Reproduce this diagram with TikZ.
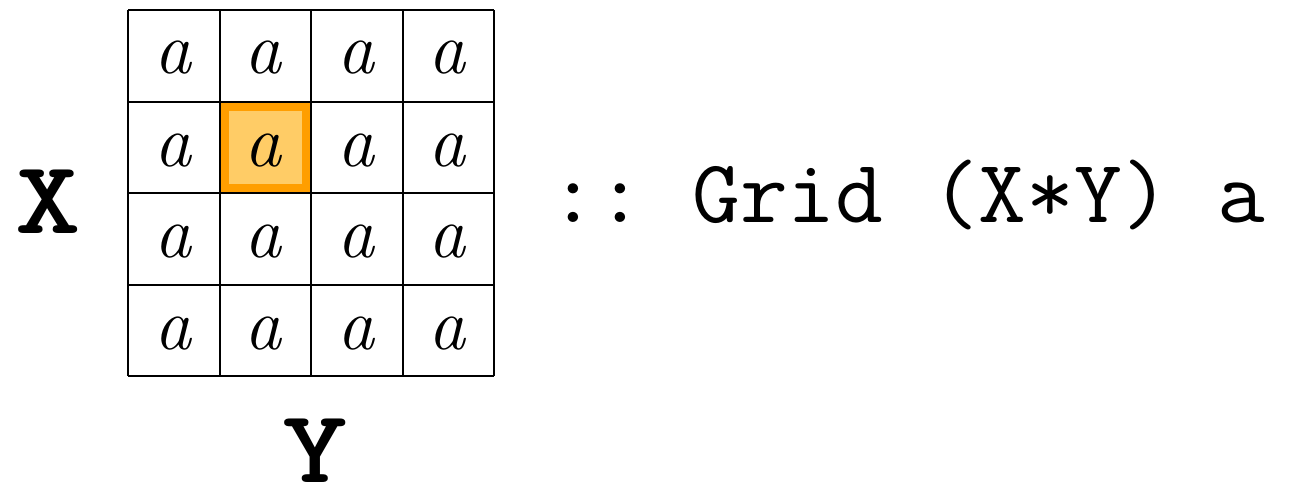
\documentclass[tikz,border=0pt]{standalone}
\usepackage{fontspec}
\usepackage{graphicx}
\definecolor{hiedge}{HTML}{FF9E00}
\definecolor{hifill}{HTML}{FFCC66}
\tikzset{
  cell/.style={font=\fontsize{74}{74}\selectfont\itshape, inner sep=0pt, anchor=base},
  axis/.style={font=\fontsize{104}{104}\selectfont\ttfamily\bfseries, inner sep=0pt, anchor=base},
  sig/.style={font=\fontsize{90}{90}\selectfont\ttfamily, inner sep=0pt, anchor=base west},
}
\begin{document}
\begin{tikzpicture}[x=1pt,y=-1pt]
  \useasboundingbox (0,0) rectangle (1293,487);
  % highlighted cell
  \fill[hiedge] (220,102) rectangle (311,193);
  \fill[hifill] (229,111) rectangle (302,184);
  % grid lines
  \foreach \v in {128,220,311,403,494}
    \draw[line width=1.6pt] (\v,10) -- (\v,376);
  \foreach \h in {10,102,193,285,376}
    \draw[line width=1.6pt] (128,\h) -- (494,\h);
  % cell contents
  \foreach \r/\yb in {0/74,1/166,2/257,3/349}
    \foreach \c/\xc in {0/173,1/263,2/356,3/447}
      \node[cell] (c\r\c) at (\xc,\yb) {a};
  % axis labels and type
  \node[axis] (xl) at (48,233) {\scalebox{1.2}[1]{X}};
  \node[axis] (yl) at (315,482) {\scalebox{1.2}[1]{Y}};
  \node[sig] (sig) at (549,222) {\scalebox{1.03}[1]{::~Grid~(X*Y)~a}};
\end{tikzpicture}
\end{document}
